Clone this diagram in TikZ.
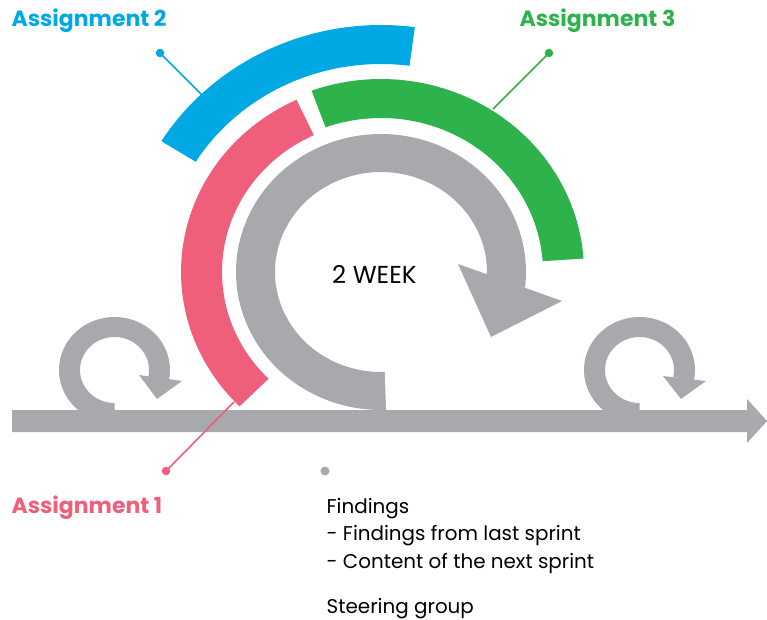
\documentclass[tikz,border=0pt]{standalone}
\usepackage{fontspec}
\setmainfont{Poppins}
\definecolor{cblue}{RGB}{0,169,228}
\definecolor{cpink}{RGB}{239,94,123}
\definecolor{cgreen}{RGB}{46,178,76}
\definecolor{cgray}{RGB}{167,169,172}
\tikzset{
  headlbl/.style={inner sep=0pt, anchor=base west, font=\fontsize{22}{26}\selectfont\bfseries},
  bodylbl/.style={inner sep=0pt, anchor=base west, font=\fontsize{19.9}{23}\selectfont},
  leader/.style={line width=1.6pt},
  ldot/.style={circle, inner sep=0pt, minimum size=8.5pt},
}
\begin{document}
\begin{tikzpicture}[x=1pt,y=-1pt]
\useasboundingbox (0,0) rectangle (767,620);
% main timeline arrow
\fill[cgray] (12,410) -- (747,410) -- (747,399) -- (767,421) -- (747,443) -- (747,432) -- (12,432) -- cycle;
% small loops
\fill[cgray] plot[domain=90:372,samples=80] ({114.5+55.5*cos(\x)},{370+53*sin(\x)})
  -- plot[domain=372:90,samples=80] ({114.5+34.5*cos(\x)},{370+33*sin(\x)}) -- cycle;
\fill[cgray] (139,375) -- (182,381) -- (157,399) -- cycle;
\fill[cgray] plot[domain=90:372,samples=80] ({639.5+55.5*cos(\x)},{370+53*sin(\x)})
  -- plot[domain=372:90,samples=80] ({639.5+34.5*cos(\x)},{370+33*sin(\x)}) -- cycle;
\fill[cgray] (663,376) -- (706,381) -- (681,399) -- cycle;
% big loop
\fill[cgray] plot[domain=88:366.5,samples=120] ({381+145*cos(\x)},{272+138*sin(\x)})
  -- plot[domain=362:88,samples=120] ({381+106*cos(\x)},{272+100*sin(\x)}) -- cycle;
\fill[cgray] (458,264) -- (562,301) -- (491,337) -- cycle;
% coloured arcs
\fill[cpink] plot[domain=135:245,samples=60] ({381+200*cos(\x)},{272+190*sin(\x)})
  -- plot[domain=245:135,samples=60] ({381+159*cos(\x)},{272+151*sin(\x)}) -- cycle;
\fill[cblue] plot[domain=212:277.5,samples=60] ({381+259*cos(\x)},{272+247*sin(\x)})
  -- plot[domain=277.5:212,samples=60] ({381+218.5*cos(\x)},{272+208*sin(\x)}) -- cycle;
\fill[cgreen] plot[domain=250:356,samples=60] ({381+203*cos(\x)},{272+193*sin(\x)})
  -- plot[domain=356:250,samples=60] ({381+162*cos(\x)},{272+154*sin(\x)}) -- cycle;
% leaders
\node[ldot, fill=cblue] (d2) at (160,53) {};
\coordinate (e2) at (202,95);
\draw[leader, cblue] (d2.center) -- (e2);
\node[ldot, fill=cgreen] (d3) at (549,53) {};
\coordinate (e3) at (493,109);
\draw[leader, cgreen] (d3.center) -- (e3);
\node[ldot, fill=cpink] (d1) at (166,471) {};
\coordinate (e1) at (234,402);
\draw[leader, cpink] (d1.center) -- (e1);
\node[ldot, fill=cgray, minimum size=9pt] (dg) at (325,471) {};
% labels
\node[headlbl, text=cblue] (a2) at (11.5,27) {Assignment 2};
\node[headlbl, text=cgreen] (a3) at (519.5,27) {Assignment 3};
\node[headlbl, text=cpink] (a1) at (11.5,513) {Assignment 1};
\node[inner sep=0pt, anchor=base west, font=\fontsize{24.5}{28}\selectfont] (wk) at (332,283) {2 WEEK};
\node[bodylbl] (f1) at (326.5,513) {Findings};
\node[bodylbl] (f2) at (326.5,540.5) {- Findings from last sprint};
\node[bodylbl] (f3) at (326.5,568) {- Content of the next sprint};
\node[bodylbl] (f4) at (326.5,613) {Steering group};
\end{tikzpicture}
\end{document}
